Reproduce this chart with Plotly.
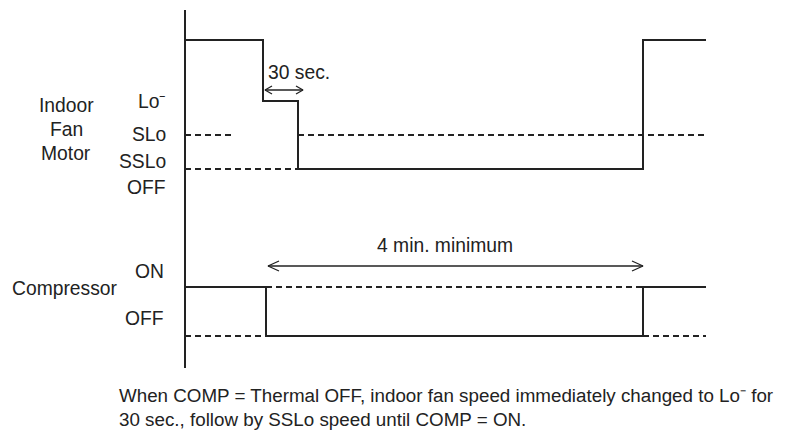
import plotly.graph_objects as go

# ---- data (time in chart units, levels in chart units) ----
fan_times = [0, 78, 113, 458, 521]
fan_levels = [392, 331, 263, 392, 392]          # High, Lo-, SSLo, High, High

comp_times = [0, 81, 458, 521]
comp_levels = [145, 96, 145, 145]               # ON, OFF, ON, ON

fan_level_names = ["Lo⁻", "SLo", "SSLo", "OFF"]
fan_label_levels = [331, 298, 271, 245]
comp_level_names = ["ON", "OFF"]
comp_label_levels = [161, 114]

SLO, SSLO, C_ON, C_OFF = 297, 263, 145, 96

slo_dash_segments = [(0, 50), (113, 521)]
sslo_dash_segments = [(0, 113)]
on_dash_segments = [(81, 458)]
off_dash_segments = [(0, 81), (458, 521)]

arrow_30s = (80, 118, 342)
arrow_4min = (83, 458, 166)

caption = ("When COMP = Thermal OFF, indoor fan speed immediately changed to Lo⁻ for<br>"
           "30 sec., follow by SSLo speed until COMP = ON.")

INK = "#222222"
FONT = "Liberation Sans, Arial, Helvetica, sans-serif"

fig = go.Figure()

def line(xs, ys, dash="solid", width=2, shape="linear"):
    fig.add_trace(go.Scatter(x=xs, y=ys, mode="lines", line=dict(color=INK, width=width, dash=dash, shape=shape),
                             hoverinfo="skip", showlegend=False))

# axis line
line([0, 0], [422, 64], width=2)

# dashed reference levels
DASH = "6px,4px"
for a, b in slo_dash_segments:
    line([a, b], [SLO, SLO], dash=DASH)
for a, b in sslo_dash_segments:
    line([a, b], [SSLO, SSLO], dash=DASH)
for a, b in on_dash_segments:
    line([a, b], [C_ON, C_ON], dash=DASH)
for a, b in off_dash_segments:
    line([a, b], [C_OFF, C_OFF], dash=DASH)

# step signals
line(fan_times, fan_levels, shape="hv")
line(comp_times, comp_levels, shape="hv")

# double arrows with open chevrons
def double_arrow(x0, x1, y, hl, hh):
    line([x0, x1], [y, y], width=1.3)
    line([x0 + hl, x0, x0 + hl], [y + hh, y, y - hh], width=1.3)
    line([x1 - hl, x1, x1 - hl], [y + hh, y, y - hh], width=1.3)

double_arrow(*arrow_30s, 7, 4)
double_arrow(*arrow_4min, 11, 5)

def text(x, y, s, xanchor="center", size=19.3):
    fig.add_annotation(x=x, y=y, text=s, showarrow=False, xanchor=xanchor, yanchor="middle",
                       font=dict(family=FONT, size=size, color=INK))

for name, lv in zip(fan_level_names, fan_label_levels):
    text(-17, lv, name, xanchor="right")
for name, lv in zip(comp_level_names, comp_label_levels):
    text(-19, lv, name, xanchor="right")

text(-119, 327, "Indoor")
text(-119, 303, "Fan")
text(-119, 279, "Motor")
text(-120, 144, "Compressor")

text(81, 360, "30 sec.", xanchor="left")
text(260, 187, "4 min. minimum")

fig.add_annotation(x=-68, y=25, text=caption, showarrow=False, xanchor="left", yanchor="middle",
                   align="left", font=dict(family=FONT, size=18.8, color=INK))

# page body has an 8px margin: figure is 784x424 placed at (8, 8)
fig.update_layout(
    width=784, height=424, margin=dict(l=0, r=0, t=0, b=0),
    paper_bgcolor="white", plot_bgcolor="white",
    xaxis=dict(range=[-177, 607], visible=False, fixedrange=True),
    yaxis=dict(range=[0, 424], visible=False, fixedrange=True),
)

fig.write_html("out.html")
